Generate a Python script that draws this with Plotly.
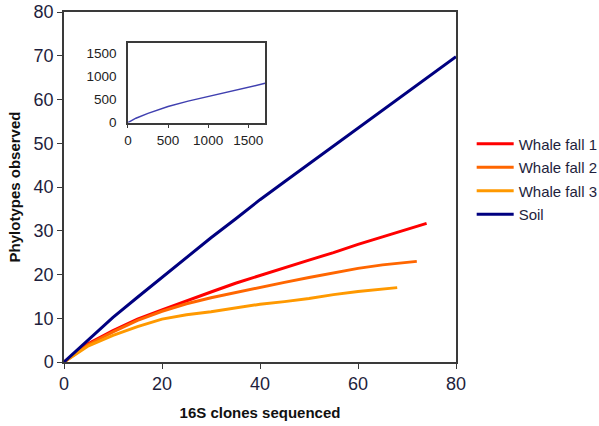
import plotly.graph_objects as go

# Rarefaction curves: phylotypes observed vs. 16S clones sequenced
wf1_x = [0, 5, 10, 15, 20, 25, 30, 35, 40, 45, 50, 55, 60, 65, 70, 74]
wf1_y = [0, 4.2, 7.2, 9.8, 11.9, 14.0, 16.0, 18.0, 19.8, 21.6, 23.3, 25.0, 26.9, 28.6, 30.3, 31.7]

wf2_x = [0, 5, 10, 15, 20, 25, 30, 35, 40, 45, 50, 55, 60, 65, 72]
wf2_y = [0, 4.0, 6.9, 9.5, 11.6, 13.3, 14.7, 15.9, 17.0, 18.2, 19.3, 20.4, 21.4, 22.2, 23.0]

wf3_x = [0, 5, 10, 15, 20, 25, 30, 35, 40, 45, 50, 55, 60, 68]
wf3_y = [0, 3.7, 6.1, 8.1, 9.8, 10.8, 11.5, 12.4, 13.2, 13.8, 14.5, 15.4, 16.1, 17.0]

soil_x = [0, 5, 10, 15, 20, 25, 30, 35, 40, 45, 50, 55, 60, 65, 70, 75, 80]
soil_y = [0, 5.2, 10.2, 14.8, 19.4, 24.0, 28.4, 32.7, 37.1, 41.2, 45.3, 49.3, 53.5, 57.7, 61.8, 65.8, 69.8]

# Inset: soil curve over the full sampling effort
inset_x = [0, 100, 250, 500, 750, 1000, 1250, 1500, 1710]
inset_y = [0, 95, 200, 350, 465, 565, 660, 755, 850]

series = [
    ("Whale fall 1", wf1_x, wf1_y, "#ff0000"),
    ("Whale fall 2", wf2_x, wf2_y, "#ff6600"),
    ("Whale fall 3", wf3_x, wf3_y, "#ff9900"),
    ("Soil", soil_x, soil_y, "#000080"),
]

FONT = "Liberation Sans, Arial, sans-serif"
TEXT = "#1e1e3c"
AXIS = "#3a3a3a"

fig = go.Figure()
for i, (name, xs, ys, color) in enumerate(series):
    fig.add_trace(go.Scatter(
        x=xs, y=ys, name=name, mode="lines",
        line=dict(color=color, width=3),
        legendgroup=f"g{i}",
    ))

fig.add_trace(go.Scatter(
    x=inset_x, y=inset_y, mode="lines", showlegend=False,
    line=dict(color="#4040b0", width=1.5),
    xaxis="x2", yaxis="y2",
))

fig.update_layout(
    width=599, height=426,
    margin=dict(l=64, r=143, t=12, b=64, autoexpand=False),
    paper_bgcolor="white", plot_bgcolor="white",
    font=dict(family=FONT, color=TEXT),
    xaxis=dict(
        range=[0, 80], tickvals=[0, 20, 40, 60, 80],
        showgrid=False, zeroline=False,
        showline=True, mirror=True, linecolor=AXIS, linewidth=1.5,
        ticks="outside", ticklen=5, tickcolor=AXIS,
        tickfont=dict(size=18, color=TEXT),
        title=dict(text="<b>16S clones sequenced</b>", font=dict(size=15, color="#111"), standoff=14),
    ),
    yaxis=dict(
        range=[0, 80], tickvals=list(range(0, 81, 10)),
        showgrid=False, zeroline=False,
        showline=True, mirror=True, linecolor=AXIS, linewidth=1.5,
        ticks="outside", ticklen=5, tickcolor=AXIS,
        tickfont=dict(size=18, color=TEXT),
        title=dict(text="<b>Phylotypes observed</b>", font=dict(size=15, color="#111"), standoff=9),
    ),
    xaxis2=dict(
        domain=[0.163, 0.513], anchor="y2",
        range=[0, 1710], tickvals=[0, 500, 1000, 1500],
        showgrid=False, zeroline=False,
        showline=True, mirror=True, linecolor=AXIS, linewidth=1.5,
        ticks="outside", ticklen=4, tickcolor=AXIS,
        tickfont=dict(size=13.5, color="#222"),
    ),
    yaxis2=dict(
        domain=[0.684, 0.911], anchor="x2",
        range=[0, 1720], tickvals=[0, 500, 1000, 1500],
        showgrid=False, zeroline=False,
        showline=True, mirror=True, linecolor=AXIS, linewidth=1.5,
        ticks="outside", ticklen=7, tickcolor="rgba(0,0,0,0)",
        tickfont=dict(size=13.5, color="#222"),
    ),
    legend=dict(
        x=1.04, y=0.67, xanchor="left", yanchor="top",
        font=dict(size=15, color=TEXT),
        itemwidth=37,
        tracegroupgap=1, bgcolor="rgba(0,0,0,0)",
    ),
)

fig.write_html("out.html")
